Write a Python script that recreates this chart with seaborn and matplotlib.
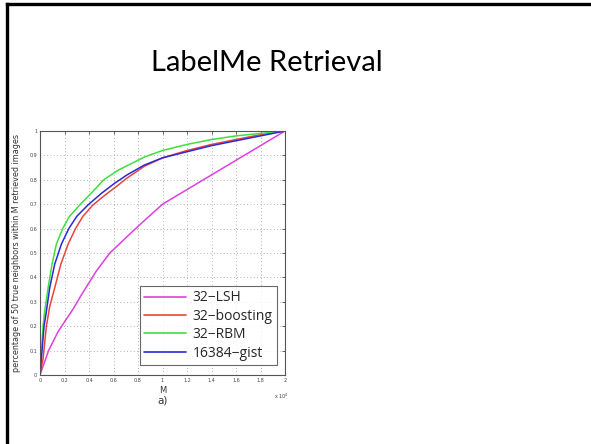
import matplotlib
matplotlib.use("Agg")
import matplotlib.pyplot as plt
from matplotlib.lines import Line2D
import seaborn as sns
import pandas as pd

# Data (M in units of 10^4)
lsh_m = [0, 0.07, 0.15, 0.21, 0.27, 0.34, 0.46, 0.57, 0.78, 1.0, 1.2, 1.4, 1.6, 1.8, 2.0]
lsh_v = [0, 0.10, 0.18, 0.225, 0.27, 0.33, 0.426, 0.50, 0.60, 0.70, 0.76, 0.82, 0.88, 0.94, 1.0]
boost_m = [0, 0.025, 0.052, 0.079, 0.12, 0.17, 0.23, 0.29, 0.35, 0.43, 0.53, 0.64, 0.71, 0.85,
           1.0, 1.2, 1.4, 1.6, 1.8, 2.0]
boost_v = [0, 0.066, 0.20, 0.28, 0.357, 0.454, 0.537, 0.60, 0.65, 0.696, 0.737, 0.779, 0.807, 0.855,
           0.89, 0.92, 0.945, 0.965, 0.985, 1.0]
rbm_m = [0, 0.008, 0.025, 0.038, 0.066, 0.098, 0.134, 0.185, 0.24, 0.34, 0.42, 0.52, 0.64, 0.72,
         0.86, 1.0, 1.2, 1.4, 1.6, 1.8, 2.0]
rbm_v = [0, 0.066, 0.20, 0.26, 0.357, 0.454, 0.537, 0.60, 0.65, 0.705, 0.746, 0.80, 0.84, 0.86,
         0.895, 0.92, 0.945, 0.965, 0.98, 0.99, 1.0]
gist_m = [0, 0.011, 0.033, 0.052, 0.079, 0.12, 0.175, 0.235, 0.30, 0.39, 0.50, 0.61, 0.71, 0.85,
          1.0, 1.2, 1.4, 1.6, 1.8, 2.0]
gist_v = [0, 0.066, 0.20, 0.26, 0.357, 0.454, 0.537, 0.60, 0.65, 0.696, 0.744, 0.786, 0.82, 0.86,
          0.89, 0.915, 0.94, 0.96, 0.98, 1.0]

series_names = ["32\u2212LSH", "32\u2212boosting", "32\u2212RBM", "16384\u2212gist"]
series_m = [lsh_m, boost_m, rbm_m, gist_m]
series_v = [lsh_v, boost_v, rbm_v, gist_v]
colors = ["#e040e0", "#e8453a", "#3ee03e", "#2a2ad8"]

x_ticks = [0, 0.2, 0.4, 0.6, 0.8, 1, 1.2, 1.4, 1.6, 1.8, 2]
y_ticks = [0, 0.1, 0.2, 0.3, 0.4, 0.5, 0.6, 0.7, 0.8, 0.9, 1]

rows = []
for name, ms, vs in zip(series_names, series_m, series_v):
    for m, v in zip(ms, vs):
        rows.append({"M": m, "value": v, "method": name})
df = pd.DataFrame(rows)

sns.set_theme(style="white")
plt.rcParams['font.family'] = ['DejaVu Sans']

fig = plt.figure(figsize=(5.91, 4.44), dpi=100)
fig.patch.set_facecolor("white")

ax = fig.add_axes([40/591, 1-375/444, 245/591, 244/444])
sns.lineplot(data=df, x="M", y="value", hue="method", hue_order=series_names,
             palette=colors, ax=ax, linewidth=1.1, sort=False, estimator=None)

ax.set_xlim(0, 2)
ax.set_ylim(0, 1)
ax.set_xticks(x_ticks)
ax.set_yticks(y_ticks)
ax.set_xticklabels([f"{t:g}" for t in x_ticks], fontsize=3.5, color="#444444")
ax.set_yticklabels([f"{t:g}" for t in y_ticks], fontsize=3.5, color="#444444")
ax.tick_params(direction="in", length=2, width=0.5, top=True, right=True, pad=2)
ax.grid(True, linestyle=(0, (1, 3)), color="#999999", linewidth=0.6)
for s in ax.spines.values():
    s.set_color("#555555")
    s.set_linewidth(0.8)

ax.set_xlabel("M", fontsize=6, labelpad=2, color="#333333")
ax.set_ylabel("percentage of 50 true neighbors within M retrieved images",
              fontsize=5.8, labelpad=6, color="#333333")
ax.text(0.5, -0.085, "a)", transform=ax.transAxes, ha="center", va="top",
        fontsize=7.5, color="#333333")
ax.text(0.985, -0.07, "x 10$^4$", transform=ax.transAxes, ha="center", va="top",
        fontsize=3.5, color="#444444")

leg = ax.legend(loc="lower right", bbox_to_anchor=(0.967, 0.041), fontsize=10,
                frameon=True, fancybox=False, handlelength=3.0, labelspacing=0.25,
                borderpad=0.3, handletextpad=0.5, borderaxespad=0)
leg.get_frame().set_edgecolor("#444444")
leg.get_frame().set_linewidth(0.8)
for t in leg.get_texts():
    t.set_family(["Open Sans", "DejaVu Sans"])
for l in leg.get_lines():
    l.set_linewidth(1.2)

fig.text(267/591, 1-63/444, "LabelMe Retrieval", ha="center", va="center",
         fontsize=21, family=["Lato", "DejaVu Sans"], color="black")

# slide frame (left and top edges)
fig.add_artist(Line2D([7/591, 7/591], [0, 1-4.5/444], transform=fig.transFigure,
                      color="black", linewidth=2.4, solid_capstyle="projecting"))
fig.add_artist(Line2D([7/591, 1], [1-4.5/444, 1-4.5/444], transform=fig.transFigure,
                      color="black", linewidth=2.4, solid_capstyle="projecting"))

fig.savefig("out.png", dpi=100, facecolor="white")
